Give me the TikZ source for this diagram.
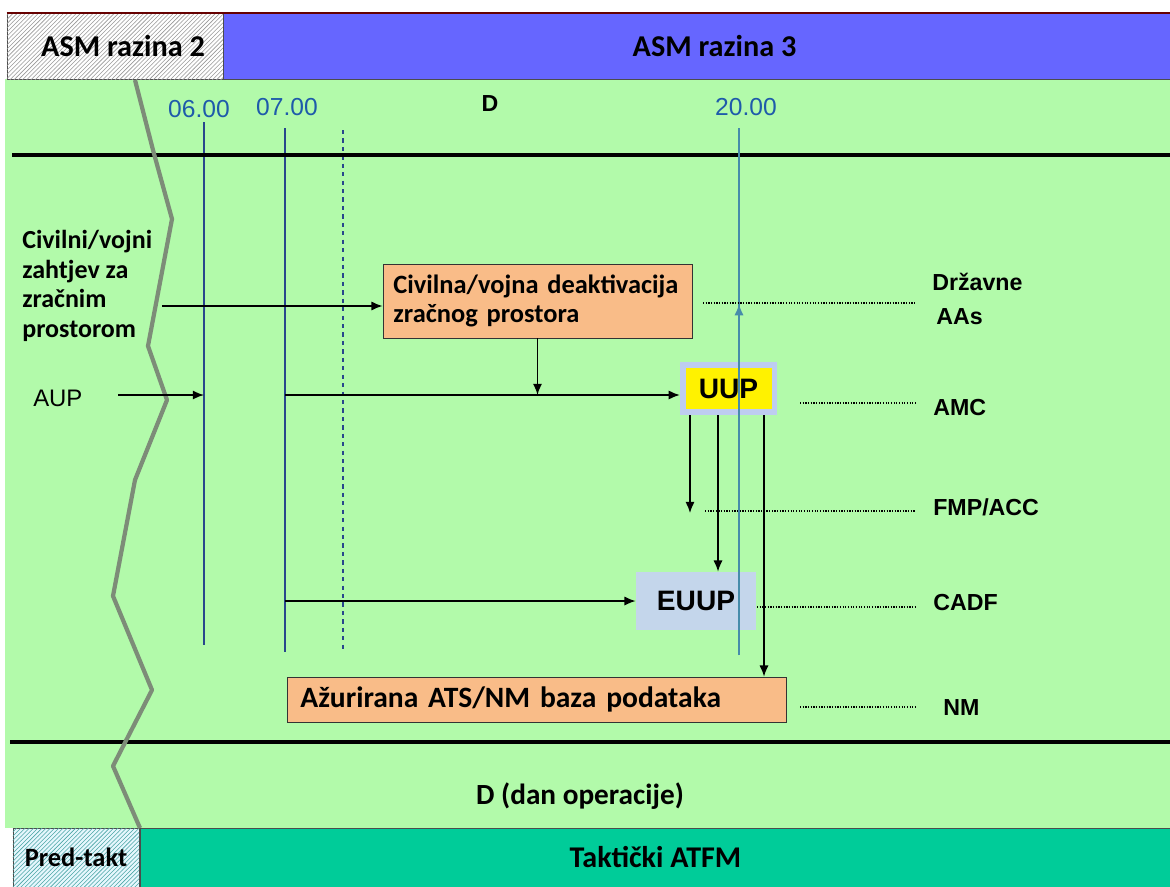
\documentclass[tikz,border=0pt]{standalone}
\usepackage{fontspec}
\setmainfont{Liberation Sans}
\newfontfamily\calib{Carlito}
\usepackage{tikz}
\usetikzlibrary{positioning, arrows, arrows.meta, patterns, calc}
\definecolor{bggreen}{RGB}{178,250,170}
\definecolor{asmblue}{RGB}{102,102,255}
\definecolor{tealbar}{RGB}{0,204,153}
\definecolor{boxorange}{RGB}{249,188,136}
\definecolor{euupblue}{RGB}{196,214,235}
\definecolor{uupedge}{RGB}{190,205,240}
\definecolor{timeblue}{RGB}{40,70,140}
\definecolor{timetext}{RGB}{30,90,170}
\definecolor{line20}{RGB}{70,140,170}
\definecolor{zig}{RGB}{125,140,120}
\tikzstyle{arrow} = [line width=1.1pt,->,>={Latex[length=8pt,width=6.5pt]}]
\tikzstyle{hatchbox} = [draw=black!70, inner sep=0]
\tikzstyle{bandbox} = [draw=black!70, inner sep=0]
\tikzstyle{procbox} = [draw=black!80, fill=boxorange, inner sep=0, align=left,
  font=\calib\bfseries\fontsize{18.8}{20}\selectfont]
\tikzstyle{timeline} = [color=timeblue, line width=1pt]
\tikzstyle{timetxt} = [text=timetext, font=\fontsize{17.5}{19}\selectfont]
\tikzstyle{dotline} = [densely dotted, line width=0.9pt]
\tikzstyle{party} = [anchor=west, inner sep=0, font=\bfseries\fontsize{16.5}{18}\selectfont]

\begin{document}
\begin{tikzpicture}[x=0.025cm, y=-0.025cm, node distance=1cm]
    \useasboundingbox (0,0) rectangle (1170,887);
    \fill[white] (0,0) rectangle (1170,887);
    \fill[bggreen] (5,79) rectangle (1170,828);

    % Bands
    \node (asm2) [hatchbox, fill=white,
      postaction={pattern=north east lines, pattern color=gray!80},
      minimum width=5.4cm, minimum height=1.65cm,
      font=\calib\bfseries\fontsize{21.5}{23}\selectfont] at (115,46) {\hspace{0.4cm}ASM razina 2};
    \node (asm3) [bandbox, fill=asmblue, minimum width=23.675cm, minimum height=1.65cm,
      font=\calib\bfseries\fontsize{21.5}{23}\selectfont] at (696.5,46) {\hspace{0.9cm}ASM razina 3};
    \draw[black!60!red, line width=1.5pt] (asm2.north west) -- (asm3.north east);
    \node (pred) [hatchbox, fill=cyan!10,
      postaction={pattern=north east lines, pattern color=teal!70},
      minimum width=3.15cm, minimum height=1.475cm,
      font=\calib\bfseries\fontsize{18.8}{20}\selectfont] at (76,857.5) {Pred-takt};
    \node (takt) [bandbox, fill=tealbar, minimum width=25.775cm, minimum height=1.475cm,
      font=\calib\bfseries\fontsize{21.4}{23}\selectfont] at (655.5,857.5) {Takti\v{c}ki ATFM};

    % Times
    \node (t6) [timetxt] at (199,109) {06.00};
    \node (t7) [timetxt] at (287,107) {07.00};
    \node (t20) [timetxt] at (746,107) {20.00};
    \node (dday) [font=\bfseries\fontsize{16.5}{18}\selectfont] at (490,104) {D};
    \node (dop) [font=\calib\bfseries\fontsize{20.8}{22}\selectfont] at (580,796) {D (dan operacije)};

    \coordinate (t6top) at (204,122);
    \coordinate (t6bot) at (204,645);
    \coordinate (t7top) at (285,128);
    \coordinate (t7bot) at (285,652);
    \coordinate (tdtop) at (343,130);
    \coordinate (tdbot) at (343,652);
    \coordinate (t20top) at (739,128);
    \coordinate (t20bot) at (739,655);
    \draw[timeline] (t6top) -- (t6bot);
    \draw[timeline] (t7top) -- (t7bot);
    \draw[timeline, dashed] (tdtop) -- (tdbot);

    % Thick separators
    \draw[line width=3.5pt] (12,155) -- (1170,155);
    \draw[line width=3.5pt] (10,742) -- (1170,742);

    % Broken edge
    \draw[zig, line width=3pt, line join=round] (135,80) -- (153,150) -- (172,219)
      -- (148,346) -- (167,400) -- (135,480) -- (113,596) -- (152,690)
      -- (113,766) -- (140,828);

    % Left labels
    \node (civil) [anchor=west, inner sep=0, align=left,
      font=\calib\bfseries\fontsize{18.5}{21}\selectfont] at (22,286)
      {Civilni/vojni\\zahtjev za\\zra\v{c}nim\\prostorom};
    \node (aup) [anchor=west, inner sep=0, font=\fontsize{17}{19}\selectfont] at (33,398) {AUP};

    % Boxes
    \node (deak) [procbox, minimum width=7.725cm, minimum height=1.85cm,
      text width=7.2cm] at (537.5,301)
      {Civilna/vojna deaktivacija\\zra\v{c}nog prostora};
    \node (uup) [draw=uupedge, line width=4pt, fill=yellow, inner sep=0,
      minimum width=2.29cm, minimum height=1.19cm,
      font=\bfseries\fontsize{20}{22}\selectfont] at (728.5,388.5) {UUP};
    \draw[line20, line width=1.2pt] (t20bot) -- (t20top);
    \node (euup) [fill=euupblue, inner sep=0, minimum width=3cm, minimum height=1.45cm,
      font=\bfseries\fontsize{20}{22}\selectfont] at (696,601) {EUUP};
    \node (nmbox) [procbox, minimum width=12.475cm, minimum height=1.125cm,
      text width=11.8cm, font=\calib\bfseries\fontsize{21}{23}\selectfont]
      at (536.5,699.5) {A\v{z}urirana ATS/NM baza podataka};

    % Right labels
    \node (drz) [party] at (932,282) {Dr\v{z}avne};
    \node (aas) [party] at (936,317) {AAs};
    \node (amc) [party] at (933,408) {AMC};
    \node (fmp) [party] at (933,507) {FMP/ACC};
    \node (cadf) [party] at (933,603) {CADF};
    \node (nm) [party] at (943,708) {NM};

    % Edges
    \coordinate (reqstart) at (162,306);
    \coordinate (aupstart) at (118,395);
    \coordinate (uupin) at (285,395);
    \coordinate (u1) at ($(uup.south)+(-38.5,0)$);
    \coordinate (u2) at ($(uup.south)+(-10.5,0)$);
    \coordinate (u3) at ($(uup.south)+(35.5,0)$);
    \draw[arrow] (reqstart) -- (reqstart -| deak.west);
    \draw[arrow] (aupstart) -- (aupstart -| t6top);
    \draw[arrow] (uupin) -- (uupin -| uup.west);
    \draw[arrow] (deak.south) -- (deak.south |- uupin);
    \draw[arrow] (t7top |- euup.west) -- (euup.west);
    \draw[arrow] (u1) -- ++(0,98);
    \draw[arrow] (u2) -- (u2 |- euup.north);
    \draw[arrow] (u3) -- (u3 |- nmbox.north);
    \draw[arrow, line20, line width=1.2pt] (t20bot) -- (t20top |- 0,304);

    % Dotted links
    \coordinate (dotend) at (915,0);
    \coordinate (d1) at (703,303);
    \coordinate (d2) at (800,403);
    \coordinate (d3) at (705,511);
    \coordinate (d4) at (757,607);
    \coordinate (d5) at (800,707);
    \draw[dotline] (d1) -- (d1 -| dotend);
    \draw[dotline] (d2) -- (d2 -| dotend);
    \draw[dotline] (d3) -- (d3 -| dotend);
    \draw[dotline] (d4) -- (d4 -| dotend);
    \draw[dotline] (d5) -- (d5 -| dotend);
\end{tikzpicture}
\end{document}
